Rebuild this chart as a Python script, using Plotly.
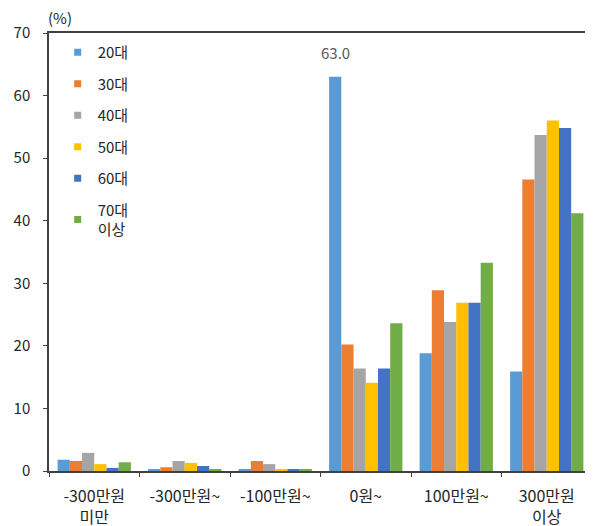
import plotly.graph_objects as go

categories = ["-300만원<br>미만", "-300만원~", "-100만원~", "0원~", "100만원~", "300만원<br>이상"]
series_names = ["20대", "30대", "40대", "50대", "60대", "70대<br>이상"]
colors = ["#5B9BD5", "#ED7D31", "#A5A5A5", "#FFC000", "#4472C4", "#70AD47"]

v20 = [1.8, 0.2, 0.2, 63.0, 18.8, 15.9]
v30 = [1.6, 0.6, 1.6, 20.2, 28.9, 46.6]
v40 = [2.9, 1.6, 1.1, 16.4, 23.8, 53.7]
v50 = [1.1, 1.3, 0.2, 14.1, 26.9, 56.0]
v60 = [0.5, 0.8, 0.3, 16.4, 26.9, 54.8]
v70 = [1.4, 0.3, 0.3, 23.6, 33.3, 41.2]
values = [v20, v30, v40, v50, v60, v70]

y_ticks = [0, 10, 20, 30, 40, 50, 60, 70]

FONT = "Noto Sans CJK KR, sans-serif"
TXT = "#262626"
BARGAP = 0.19

fig = go.Figure()
for name, vals, col in zip(series_names, values, colors):
    fig.add_trace(go.Bar(x=categories, y=vals, name=name, marker_color=col,
                         marker_line_width=0, showlegend=False))
for i, (name, col) in enumerate(zip(series_names, colors)):
    fig.add_trace(go.Scatter(x=[None], y=[None], mode="markers", name=name,
                             marker=dict(symbol="square", size=7, color=col),
                             legendgroup=f"g{i}", showlegend=True))

# data label for the highest bar (20대, 0원~)
ci = 3
n = len(series_names)
bw = (1 - BARGAP) / n
xpos = ci + (0 - (n - 1) / 2) * bw
fig.add_annotation(x=xpos, y=v20[ci], xref="x", yref="y", text=f"{v20[ci]:.1f}",
                   showarrow=False, yanchor="bottom", yshift=12,
                   font=dict(family=FONT, size=15, color="#595959"))

fig.add_annotation(x=0, y=1, xref="paper", yref="paper", text="(%)", showarrow=False,
                   xanchor="left", yanchor="bottom", xshift=-3, yshift=3,
                   font=dict(family=FONT, size=15, color=TXT))

# the page body has an 8px margin, so the figure is shifted by it
fig.update_layout(
    width=585, height=518,
    margin=dict(l=41, r=1, t=25, b=55),
    paper_bgcolor="white", plot_bgcolor="white",
    barmode="group", bargap=BARGAP, bargroupgap=0,
    font=dict(family=FONT, size=15, color=TXT),
    legend=dict(x=0.016, y=0.993, xanchor="left", yanchor="top",
                bgcolor="rgba(0,0,0,0)", tracegroupgap=9,
                font=dict(family=FONT, size=15, color=TXT),
                traceorder="grouped"),
)
fig.update_xaxes(type="category", tickson="boundaries", ticks="outside", ticklen=4,
                 tickcolor="#404040", showline=True, linecolor="#404040", linewidth=1.5,
                 mirror=True, tickfont=dict(family=FONT, size=16, color=TXT),
                 ticklabelstandoff=10, automargin=False, showgrid=False)
fig.update_yaxes(range=[0, 70], tickvals=y_ticks, ticks="outside", ticklen=4,
                 tickcolor="#404040", showline=True, linecolor="#404040", linewidth=1.5,
                 mirror=True, showgrid=False, zeroline=False,
                 tickfont=dict(family=FONT, size=15, color=TXT),
                 ticklabelstandoff=10, automargin=False)

fig.write_html("out.html")
